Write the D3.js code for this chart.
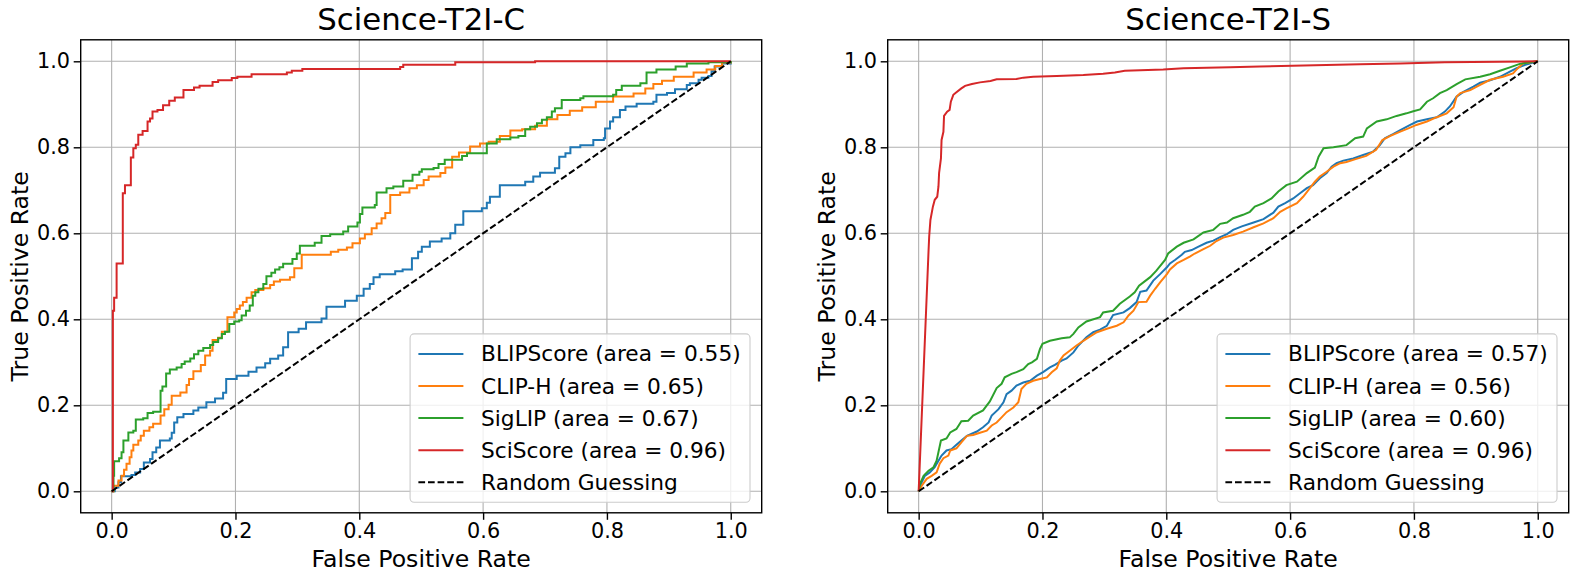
<!DOCTYPE html>
<html><head><meta charset="utf-8">
<script src="https://cdn.jsdelivr.net/npm/d3@7"></script>
<style>
body{margin:0;background:#fff}
svg{display:block}
text{font-family:"DejaVu Sans",sans-serif;fill:#000}
</style>
</head><body>
<svg id="chart" width="1577" height="581"></svg>
<script>
// ---------- data ----------
const titles = ["Science-T2I-C", "Science-T2I-S"];
const models = ["BLIPScore", "CLIP-H", "SigLIP", "SciScore"];
const aucC = [0.55, 0.65, 0.67, 0.96];
const aucS = [0.57, 0.56, 0.60, 0.96];
const tickValues = [0, 0.2, 0.4, 0.6, 0.8, 1.0];
const randomLabel = "Random Guessing";
const xLabel = "False Positive Rate";
const yLabel = "True Positive Rate";

// ROC points [fpr, tpr] - Science-T2I-C
const cBlip = [[0,0],[0.005,0.009],[0.011,0.021],[0.015,0.035],[0.032,0.038],[0.038,0.044],[0.046,0.052],[0.052,0.067],[0.062,0.075],[0.066,0.091],[0.072,0.102],[0.078,0.118],[0.094,0.123],[0.097,0.136],[0.101,0.160],[0.106,0.172],[0.116,0.180],[0.132,0.188],[0.140,0.195],[0.153,0.207],[0.167,0.216],[0.180,0.229],[0.185,0.261],[0.202,0.269],[0.221,0.278],[0.234,0.288],[0.248,0.298],[0.256,0.308],[0.269,0.316],[0.277,0.335],[0.285,0.370],[0.302,0.378],[0.314,0.393],[0.339,0.402],[0.347,0.429],[0.377,0.443],[0.396,0.455],[0.407,0.471],[0.417,0.482],[0.423,0.498],[0.433,0.505],[0.458,0.512],[0.470,0.516],[0.485,0.542],[0.495,0.557],[0.501,0.569],[0.514,0.581],[0.533,0.588],[0.547,0.600],[0.555,0.620],[0.568,0.651],[0.598,0.658],[0.606,0.671],[0.611,0.685],[0.627,0.712],[0.668,0.720],[0.681,0.732],[0.692,0.741],[0.716,0.751],[0.723,0.778],[0.733,0.786],[0.741,0.800],[0.757,0.805],[0.778,0.817],[0.795,0.821],[0.797,0.844],[0.805,0.860],[0.810,0.870],[0.821,0.887],[0.830,0.895],[0.848,0.901],[0.875,0.906],[0.880,0.922],[0.897,0.926],[0.910,0.935],[0.929,0.945],[0.934,0.949],[0.948,0.957],[0.953,0.962],[0.964,0.966],[0.969,0.977],[0.974,0.988],[0.986,0.995],[1,1]];
const cClip = [[0,0],[0.003,0.013],[0.011,0.025],[0.016,0.036],[0.020,0.050],[0.024,0.064],[0.029,0.079],[0.032,0.095],[0.035,0.108],[0.043,0.118],[0.047,0.129],[0.052,0.141],[0.061,0.149],[0.067,0.157],[0.079,0.176],[0.085,0.191],[0.092,0.201],[0.097,0.222],[0.111,0.230],[0.121,0.247],[0.125,0.261],[0.132,0.279],[0.144,0.294],[0.151,0.316],[0.159,0.327],[0.163,0.352],[0.172,0.357],[0.178,0.371],[0.187,0.405],[0.198,0.416],[0.202,0.424],[0.207,0.432],[0.212,0.440],[0.218,0.450],[0.226,0.463],[0.232,0.468],[0.245,0.472],[0.256,0.480],[0.262,0.488],[0.272,0.492],[0.288,0.498],[0.295,0.519],[0.307,0.550],[0.354,0.557],[0.366,0.562],[0.380,0.567],[0.389,0.577],[0.401,0.588],[0.409,0.598],[0.420,0.612],[0.428,0.623],[0.436,0.635],[0.442,0.647],[0.450,0.689],[0.466,0.695],[0.481,0.705],[0.493,0.712],[0.504,0.724],[0.512,0.732],[0.531,0.740],[0.539,0.753],[0.550,0.778],[0.561,0.788],[0.579,0.802],[0.595,0.809],[0.609,0.813],[0.627,0.826],[0.644,0.839],[0.663,0.842],[0.684,0.850],[0.703,0.865],[0.720,0.875],[0.740,0.885],[0.760,0.893],[0.782,0.906],[0.810,0.918],[0.843,0.925],[0.862,0.937],[0.875,0.947],[0.889,0.955],[0.908,0.964],[0.940,0.974],[0.961,0.981],[0.975,0.989],[0.986,0.997],[1,1]];
const cSig = [[0,0],[0.003,0.036],[0.004,0.070],[0.012,0.077],[0.016,0.091],[0.019,0.118],[0.027,0.137],[0.035,0.141],[0.039,0.167],[0.051,0.170],[0.058,0.182],[0.067,0.185],[0.079,0.234],[0.082,0.244],[0.088,0.274],[0.094,0.283],[0.105,0.288],[0.113,0.296],[0.118,0.302],[0.127,0.309],[0.133,0.319],[0.140,0.327],[0.148,0.333],[0.159,0.340],[0.164,0.347],[0.172,0.356],[0.178,0.366],[0.183,0.371],[0.190,0.389],[0.198,0.395],[0.206,0.398],[0.210,0.409],[0.217,0.420],[0.223,0.432],[0.228,0.455],[0.232,0.463],[0.237,0.471],[0.245,0.482],[0.250,0.500],[0.258,0.508],[0.264,0.516],[0.271,0.521],[0.277,0.529],[0.292,0.540],[0.299,0.553],[0.304,0.571],[0.328,0.578],[0.339,0.594],[0.353,0.598],[0.374,0.604],[0.382,0.616],[0.397,0.625],[0.401,0.645],[0.405,0.660],[0.425,0.666],[0.428,0.695],[0.444,0.705],[0.455,0.709],[0.471,0.722],[0.486,0.736],[0.497,0.743],[0.501,0.749],[0.520,0.752],[0.528,0.761],[0.538,0.771],[0.566,0.780],[0.574,0.786],[0.606,0.809],[0.622,0.819],[0.644,0.823],[0.657,0.826],[0.668,0.842],[0.676,0.848],[0.687,0.856],[0.695,0.864],[0.703,0.870],[0.711,0.883],[0.716,0.891],[0.727,0.910],[0.757,0.914],[0.762,0.919],[0.810,0.922],[0.815,0.933],[0.824,0.943],[0.854,0.949],[0.864,0.974],[0.880,0.981],[0.911,0.988],[0.929,0.995],[0.964,0.998],[1,1]];
const cSci = [[0,0],[0.002,0.42],[0.004,0.45],[0.008,0.53],[0.018,0.693],[0.0215,0.712],[0.031,0.776],[0.035,0.798],[0.039,0.806],[0.043,0.829],[0.050,0.838],[0.058,0.860],[0.062,0.867],[0.066,0.883],[0.074,0.887],[0.083,0.898],[0.093,0.908],[0.102,0.916],[0.116,0.933],[0.133,0.939],[0.142,0.943],[0.163,0.952],[0.172,0.956],[0.194,0.961],[0.203,0.964],[0.226,0.970],[0.283,0.974],[0.291,0.978],[0.308,0.982],[0.466,0.987],[0.471,0.992],[0.555,0.998],[0.684,1.0],[1,1]];

// ROC points [fpr, tpr] - Science-T2I-S
const sBlip = [[0,0],[0.005,0.021],[0.010,0.036],[0.018,0.044],[0.026,0.056],[0.032,0.071],[0.037,0.083],[0.045,0.095],[0.053,0.098],[0.061,0.108],[0.069,0.118],[0.078,0.129],[0.094,0.139],[0.104,0.149],[0.113,0.160],[0.118,0.176],[0.129,0.191],[0.137,0.207],[0.142,0.226],[0.150,0.234],[0.158,0.246],[0.169,0.253],[0.180,0.257],[0.191,0.269],[0.201,0.277],[0.212,0.288],[0.220,0.294],[0.231,0.304],[0.239,0.309],[0.250,0.323],[0.258,0.339],[0.271,0.358],[0.282,0.370],[0.293,0.376],[0.304,0.385],[0.314,0.410],[0.331,0.416],[0.341,0.426],[0.352,0.440],[0.358,0.464],[0.368,0.467],[0.379,0.490],[0.390,0.505],[0.401,0.521],[0.406,0.530],[0.414,0.538],[0.425,0.550],[0.430,0.557],[0.441,0.561],[0.452,0.569],[0.465,0.578],[0.476,0.583],[0.487,0.591],[0.498,0.598],[0.508,0.608],[0.522,0.616],[0.541,0.625],[0.557,0.633],[0.573,0.648],[0.581,0.662],[0.592,0.670],[0.605,0.681],[0.616,0.693],[0.627,0.705],[0.637,0.712],[0.648,0.728],[0.659,0.740],[0.667,0.755],[0.675,0.763],[0.686,0.769],[0.702,0.774],[0.718,0.782],[0.734,0.790],[0.745,0.805],[0.753,0.821],[0.767,0.831],[0.778,0.840],[0.794,0.852],[0.805,0.860],[0.821,0.865],[0.837,0.870],[0.850,0.883],[0.858,0.895],[0.869,0.918],[0.880,0.929],[0.896,0.941],[0.907,0.950],[0.923,0.956],[0.939,0.964],[0.955,0.976],[0.966,0.984],[0.980,0.992],[1,1]];
const sClip = [[0,0],[0.005,0.013],[0.013,0.029],[0.021,0.036],[0.029,0.044],[0.034,0.064],[0.040,0.077],[0.048,0.083],[0.051,0.095],[0.061,0.100],[0.069,0.114],[0.078,0.129],[0.088,0.131],[0.099,0.136],[0.110,0.141],[0.118,0.153],[0.126,0.160],[0.134,0.172],[0.142,0.184],[0.153,0.195],[0.161,0.207],[0.166,0.238],[0.174,0.250],[0.185,0.257],[0.196,0.261],[0.207,0.265],[0.215,0.277],[0.223,0.286],[0.228,0.304],[0.234,0.316],[0.244,0.327],[0.255,0.339],[0.266,0.350],[0.277,0.360],[0.288,0.370],[0.304,0.378],[0.320,0.385],[0.331,0.393],[0.339,0.409],[0.347,0.420],[0.355,0.440],[0.368,0.441],[0.374,0.455],[0.382,0.471],[0.390,0.486],[0.401,0.505],[0.406,0.516],[0.417,0.530],[0.428,0.538],[0.438,0.546],[0.446,0.553],[0.460,0.563],[0.471,0.571],[0.481,0.582],[0.492,0.590],[0.508,0.596],[0.524,0.604],[0.541,0.614],[0.557,0.623],[0.573,0.635],[0.584,0.650],[0.594,0.658],[0.611,0.670],[0.621,0.685],[0.632,0.705],[0.640,0.720],[0.648,0.732],[0.659,0.743],[0.670,0.755],[0.681,0.763],[0.691,0.766],[0.707,0.773],[0.723,0.780],[0.739,0.794],[0.749,0.817],[0.761,0.826],[0.777,0.836],[0.791,0.844],[0.804,0.852],[0.821,0.860],[0.837,0.870],[0.853,0.879],[0.864,0.893],[0.869,0.918],[0.875,0.926],[0.891,0.933],[0.907,0.945],[0.923,0.957],[0.944,0.964],[0.960,0.972],[0.968,0.984],[0.976,0.995],[1,1]];
const sSig = [[0,0],[0.002,0.017],[0.008,0.036],[0.016,0.048],[0.024,0.056],[0.029,0.071],[0.036,0.118],[0.045,0.123],[0.051,0.137],[0.061,0.145],[0.069,0.163],[0.080,0.164],[0.088,0.176],[0.104,0.188],[0.115,0.209],[0.126,0.240],[0.134,0.250],[0.139,0.265],[0.150,0.273],[0.158,0.277],[0.169,0.284],[0.177,0.296],[0.183,0.300],[0.191,0.308],[0.196,0.331],[0.200,0.343],[0.212,0.350],[0.231,0.356],[0.244,0.358],[0.250,0.366],[0.258,0.381],[0.271,0.395],[0.293,0.405],[0.298,0.416],[0.314,0.420],[0.325,0.436],[0.341,0.453],[0.349,0.463],[0.356,0.478],[0.374,0.498],[0.384,0.513],[0.398,0.538],[0.403,0.553],[0.417,0.569],[0.428,0.578],[0.444,0.586],[0.460,0.602],[0.476,0.608],[0.487,0.622],[0.498,0.625],[0.508,0.635],[0.524,0.643],[0.535,0.650],[0.543,0.662],[0.557,0.670],[0.570,0.681],[0.581,0.697],[0.594,0.712],[0.611,0.720],[0.627,0.740],[0.640,0.753],[0.646,0.778],[0.654,0.798],[0.670,0.800],[0.691,0.805],[0.705,0.821],[0.718,0.825],[0.724,0.844],[0.740,0.860],[0.756,0.865],[0.772,0.873],[0.788,0.879],[0.799,0.884],[0.810,0.888],[0.821,0.906],[0.831,0.914],[0.842,0.926],[0.853,0.933],[0.869,0.947],[0.883,0.958],[0.907,0.964],[0.923,0.970],[0.939,0.978],[0.955,0.986],[0.971,0.994],[0.988,0.998],[1,1]];
const sSci = [[0,0],[0.016,0.56],[0.017,0.592],[0.019,0.631],[0.023,0.662],[0.026,0.678],[0.030,0.685],[0.032,0.709],[0.033,0.740],[0.036,0.774],[0.037,0.817],[0.040,0.836],[0.041,0.873],[0.046,0.883],[0.050,0.887],[0.052,0.906],[0.056,0.922],[0.060,0.927],[0.069,0.937],[0.075,0.943],[0.086,0.947],[0.099,0.951],[0.116,0.954],[0.126,0.958],[0.158,0.959],[0.169,0.962],[0.185,0.964],[0.223,0.966],[0.266,0.968],[0.298,0.971],[0.317,0.974],[0.333,0.978],[0.395,0.981],[0.428,0.984],[0.503,0.986],[0.551,0.988],[0.713,0.993],[0.778,0.995],[0.850,0.998],[0.939,0.999],[1,1]];
const diagonal = [[0,0],[1,1]];

// ---------- styles / layout ----------
const colors = ["#1f77b4", "#ff7f0e", "#2ca02c", "#d62728"];
const panelDefs = [
  {title: titles[0], auc: aucC, series: [cBlip, cClip, cSig, cSci], left: 80.7, right: 761.7, curve: d3.curveStepAfter},
  {title: titles[1], auc: aucS, series: [sBlip, sClip, sSig, sSci], left: 887.7, right: 1568.7, curve: d3.curveLinear}
];
const plotTop = 39.8, plotBottom = 512.8;

const svg = d3.select("#chart");

panelDefs.forEach((p, pi) => {
  const x = d3.scaleLinear().domain([-0.05, 1.05]).range([p.left, p.right]);
  const y = d3.scaleLinear().domain([-0.05, 1.05]).range([plotBottom, plotTop]);
  const g = svg.append("g");
  const clipId = "clip" + pi;
  svg.append("clipPath").attr("id", clipId).append("rect")
    .attr("x", p.left).attr("y", plotTop).attr("width", p.right - p.left).attr("height", plotBottom - plotTop);

  // grid
  const grid = g.append("g");
  grid.selectAll("line.gx").data(tickValues).join("line").attr("class", "gx")
    .attr("x1", d => x(d)).attr("x2", d => x(d)).attr("y1", plotTop).attr("y2", plotBottom)
    .attr("stroke", "#b0b0b0").attr("stroke-width", 1.1);
  grid.selectAll("line.gy").data(tickValues).join("line").attr("class", "gy")
    .attr("y1", d => y(d)).attr("y2", d => y(d)).attr("x1", p.left).attr("x2", p.right)
    .attr("stroke", "#b0b0b0").attr("stroke-width", 1.1);

  // curves
  const line = d3.line().x(d => x(d[0])).y(d => y(d[1])).curve(p.curve);
  const lines = g.append("g").attr("clip-path", `url(#${clipId})`);
  p.series.forEach((s, i) => {
    lines.append("path").datum(s).attr("d", line)
      .attr("fill", "none").attr("stroke", colors[i]).attr("stroke-width", 2)
      .attr("stroke-linejoin", "miter").attr("stroke-linecap", "butt");
  });
  lines.append("path").datum(diagonal).attr("d", d3.line().x(d => x(d[0])).y(d => y(d[1])))
    .attr("fill", "none").attr("stroke", "#000").attr("stroke-width", 2)
    .attr("stroke-dasharray", "6.7,2.9");

  // axes
  const xa = g.append("g").attr("transform", `translate(0,${plotBottom})`)
    .call(d3.axisBottom(x).tickValues(tickValues).tickFormat(d3.format(".1f")).tickSize(7).tickPadding(3.6).tickSizeOuter(0));
  const ya = g.append("g").attr("transform", `translate(${p.left},0)`)
    .call(d3.axisLeft(y).tickValues(tickValues).tickFormat(d3.format(".1f")).tickSize(7).tickPadding(3.7).tickSizeOuter(0));
  [xa, ya].forEach(a => {
    a.select(".domain").remove();
    a.selectAll(".tick line").attr("stroke", "#000").attr("stroke-width", 1.4);
    a.selectAll(".tick text").attr("font-size", 20.8).attr("font-family", "DejaVu Sans").attr("fill", "#000");
  });

  // spines
  g.append("rect").attr("x", p.left).attr("y", plotTop).attr("width", p.right - p.left).attr("height", plotBottom - plotTop)
    .attr("fill", "none").attr("stroke", "#000").attr("stroke-width", 1.4);

  // title & labels
  const cx = (p.left + p.right) / 2;
  g.append("text").attr("x", cx).attr("y", 30).attr("text-anchor", "middle")
    .attr("font-size", 30.8).text(p.title);
  g.append("text").attr("x", cx).attr("y", 566.5).attr("text-anchor", "middle")
    .attr("font-size", 23.6).text(xLabel);
  g.append("text").attr("transform", `translate(${p.left - 52.5},${(plotTop + plotBottom) / 2}) rotate(-90)`)
    .attr("text-anchor", "middle").attr("font-size", 23.6).text(yLabel);

  // legend
  const labels = models.map((m, i) => `${m} (area = ${p.auc[i].toFixed(2)})`).concat([randomLabel]);
  const lg = g.append("g");
  const box = lg.append("rect");
  const texts = labels.map((t, i) => lg.append("text").attr("font-size", 21.7).attr("dy", "0.35em").text(t));
  const maxW = d3.max(texts, t => t.node().getComputedTextLength());
  const padL = 8.3, handle = 45, gap = 17.7, padR = 9.3, pitch = 32.1;
  const w = padL + handle + gap + maxW + padR;
  const h = 4 * pitch + 40;
  const bx = p.right - 11.7 - w, by = plotBottom - 10.5 - h;
  box.attr("x", bx).attr("y", by).attr("width", w).attr("height", h).attr("rx", 4).attr("ry", 4)
    .attr("fill", "#fff").attr("fill-opacity", 0.8).attr("stroke", "#cccccc").attr("stroke-width", 1.1);
  labels.forEach((t, i) => {
    const ry = by + 20 + i * pitch;
    texts[i].attr("x", bx + padL + handle + gap).attr("y", ry);
    const hl = lg.append("line").attr("x1", bx + padL).attr("x2", bx + padL + handle)
      .attr("y1", ry).attr("y2", ry).attr("stroke-width", 2);
    if (i < 4) hl.attr("stroke", colors[i]);
    else hl.attr("stroke", "#000").attr("stroke-dasharray", "6.7,2.9");
  });
});
</script>
</body></html>
